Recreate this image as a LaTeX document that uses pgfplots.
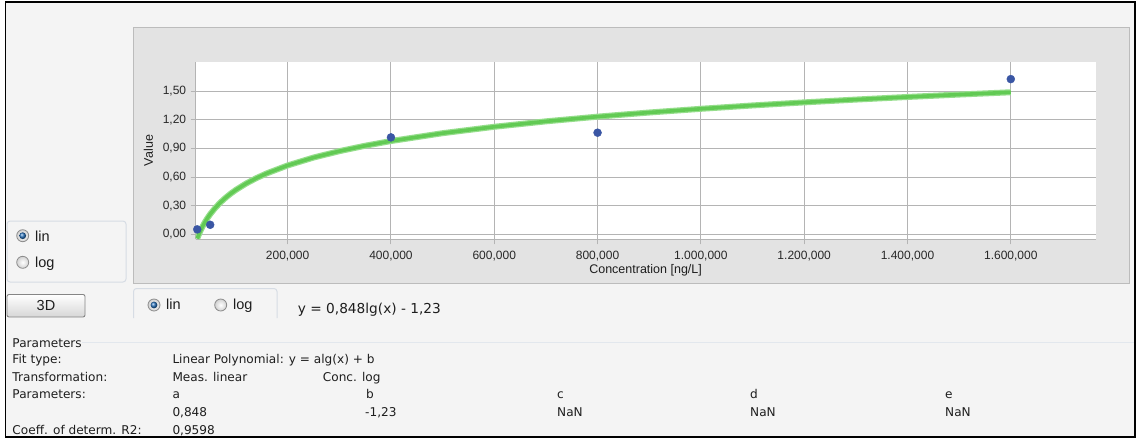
\documentclass[border=0pt]{standalone}
\usepackage{pgfplots}
\pgfplotsset{compat=1.18}
\usepackage{pgfplotstable}
\usepackage{fontspec}
\setmainfont{Liberation Sans}
\newfontfamily\uifont{DejaVu Sans}
\newfontfamily\chartfont{Liberation Sans}
\definecolor{bgc}{RGB}{244,244,244}
\definecolor{panel}{RGB}{227,227,227}
\definecolor{panelborder}{RGB}{188,188,188}
\definecolor{gridc}{RGB}{180,180,180}
\definecolor{fitgreen}{RGB}{98,202,84}
\definecolor{fitgreenlight}{RGB}{150,222,140}
\definecolor{ptblue}{RGB}{58,86,164}
\definecolor{boxc}{RGB}{214,220,228}
\definecolor{sepc}{RGB}{226,231,237}
\definecolor{txt}{RGB}{30,30,30}
\definecolor{ticktxt}{RGB}{40,40,40}
\definecolor{radioblue}{RGB}{40,115,190}

\pgfplotstableread{
x y
25 0.052
50 0.100
400 1.015
800 1.064
1600 1.625
}\meas

\pgfplotstableread{
x y
25 -0.0446
27 -0.0162
30 0.0226
35 0.0794
40 0.1286
45 0.1719
50 0.2107
60 0.2779
70 0.3346
80 0.3838
90 0.4272
100 0.4660
120 0.5332
140 0.5899
160 0.6391
200 0.7213
250 0.8035
300 0.8706
350 0.9274
400 0.9766
500 1.0587
600 1.1259
700 1.1826
800 1.2318
900 1.2752
1000 1.3140
1100 1.3491
1200 1.3812
1300 1.4106
1400 1.4379
1500 1.4633
1600 1.4871
}\fit

\newcommand\radio[3]{%
  \shade[inner color=white, outer color=black!18] (#1,#2) circle[radius=6pt];
  \draw[black!45, line width=0.8pt] (#1,#2) circle[radius=6pt];
  \ifnum#3=1
    \shade[ball color=radioblue] (#1,#2) circle[radius=3.4pt];
  \fi
}

\begin{document}
\begin{tikzpicture}
\begin{scope}[x=1pt,y=-1pt]
\fill[white] (0,0) rectangle (1137,440);
\fill[bgc] (5.5,1.8) rectangle (1135,437.3);
\fill[panel] (133.5,27) rectangle (1129,283);
\draw[panelborder,line width=1pt] (133.5,27) rectangle (1129,283);
\end{scope}

\begin{axis}[
  at={(195.7pt,-239.3pt)}, anchor=south west,
  scale only axis, width=899.8pt, height=177.6pt,
  xmin=22, xmax=1764, ymin=-0.052, ymax=1.807,
  axis background/.style={fill=white},
  axis x line*=bottom, axis y line*=left,
  axis line style={gridc, line width=1pt, -},
  xtick={200,400,600,800,1000,1200,1400,1600},
  xticklabels={{200,000},{400,000},{600,000},{800,000},{1.000,000},{1.200,000},{1.400,000},{1.600,000}},
  ytick={0,0.3,0.6,0.9,1.2,1.5},
  yticklabels={{0,00},{0,30},{0,60},{0,90},{1,20},{1,50}},
  tick align=outside, major tick length=5pt,
  tick style={gridc, line width=1pt},
  grid=major, grid style={gridc, line width=1pt},
  tick label style={font=\chartfont\fontsize{12}{14}\selectfont, text=ticktxt},
  xticklabel style={yshift=-3.5pt},
  yticklabel style={xshift=-1pt},
  xlabel={Concentration [ng/L]}, ylabel={Value},
  label style={font=\chartfont\fontsize{12.5}{14}\selectfont, text=txt},
  xlabel style={at={(axis description cs:0.5,-0.172)}, anchor=center},
  ylabel style={at={(axis description cs:-0.05268,0.5)}, anchor=center},
  clip mode=individual,
]
\addplot[fitgreenlight, line width=6pt, no markers] table {\fit};
\addplot[fitgreen, line width=3.6pt, no markers] table {\fit};
\addplot[only marks, mark=*, mark size=4pt, mark options={fill=ptblue, draw=ptblue}] table {\meas};
\end{axis}

\begin{scope}[x=1pt,y=-1pt]
% left radio group
\draw[boxc, line width=1pt, rounded corners=3pt] (7,221) rectangle (126,282);
\radio{22.7}{235.7}{1}
\radio{22.7}{262.3}{0}
\node[anchor=base west, inner sep=0, font=\chartfont\fontsize{14.5}{16}\selectfont, text=txt] at (35,241) {lin};
\node[anchor=base west, inner sep=0, font=\chartfont\fontsize{14.5}{16}\selectfont, text=txt] at (35,267.5) {log};
% 3D button
\shade[top color=white, bottom color=black!16, rounded corners=2pt] (7,294.5) rectangle (85,317);
\draw[black!48, line width=0.9pt, rounded corners=2pt] (7,294.5) rectangle (85,317);
\node[anchor=center, inner sep=0, font=\chartfont\fontsize{14.5}{16}\selectfont, text=txt] at (46,305.9) {3D};
% bottom radio group
\draw[boxc, line width=1pt, rounded corners=3pt] (133.5,318) -- (133.5,288.5) -- (277,288.5) -- (277,318);
\radio{154}{305}{1}
\radio{220.7}{305}{0}
\node[anchor=base west, inner sep=0, font=\chartfont\fontsize{14.5}{16}\selectfont, text=txt] at (166,309.3) {lin};
\node[anchor=base west, inner sep=0, font=\chartfont\fontsize{14.5}{16}\selectfont, text=txt] at (233,309.3) {log};
\node[anchor=base west, inner sep=0, font=\uifont\fontsize{13.7}{15}\selectfont, text=txt] at (297.7,313.3) {y = 0,848lg(x) - 1,23};
% parameters
\draw[sepc, line width=1.1pt] (82,342.7) -- (1134,342.7);
\begin{scope}[every node/.style={anchor=base west, inner sep=0, font=\uifont\fontsize{12.1}{14}\selectfont, text=txt}]
\node at (12.3,347.3) {Parameters};
\node at (12.3,363.3) {Fit type:};
\node at (172.3,363.3) {Linear Polynomial: y = alg(x) + b};
\node at (12.3,381) {Transformation:};
\node at (172.3,381) {Meas. linear};
\node at (322.7,381) {Conc. log};
\node at (12.3,398.7) {Parameters:};
\node at (172.3,398.7) {a};
\node at (366,398.7) {b};
\node at (557,398.7) {c};
\node at (750,398.7) {d};
\node at (945,398.7) {e};
\node at (172.3,416.5) {0,848};
\node at (365,416.5) {-1,23};
\node at (557,416.5) {NaN};
\node at (750,416.5) {NaN};
\node at (945,416.5) {NaN};
\node at (12.3,434) {Coeff. of determ. R2:};
\node at (172.3,434) {0,9598};
\end{scope}
% outer border
\fill[white] (0,437.3) rectangle (1137,440);
\draw[black, line width=1.8pt] (5.5,1.8) rectangle (1135,437.3);
\end{scope}
\end{tikzpicture}
\end{document}
